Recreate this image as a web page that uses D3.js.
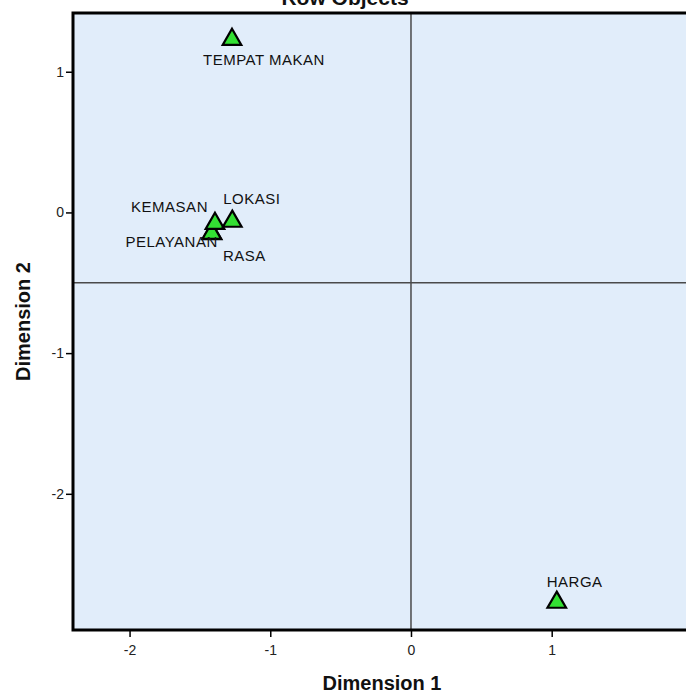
<!DOCTYPE html>
<html>
<head>
<meta charset="utf-8">
<script src="https://cdn.jsdelivr.net/npm/d3@7"></script>
<style>
  html, body { margin: 0; padding: 0; background: #fff; }
  svg { display: block; font-family: "Liberation Sans", Arial, sans-serif; }
</style>
</head>
<body>
<svg id="chart" width="686" height="697"></svg>
<script>
// ---- data ----
const labels = ["TEMPAT MAKAN", "LOKASI", "KEMASAN", "PELAYANAN", "RASA", "HARGA"];
const dim1   = [-1.272, -1.270, -1.393, -1.416, -1.414, 1.036];
const dim2   = [ 1.240, -0.053, -0.068, -0.139, -0.141, -2.761];
const xTicks = [-2, -1, 0, 1];
const yTicks = [-2, -1, 0, 1];
const refX = 0;      // vertical reference line
const refY = -0.5;   // horizontal reference line
const title = "Row Objects";
const xTitle = "Dimension 1";
const yTitle = "Dimension 2";

// label placement (style): [dx, dy, anchor]
const labelPlace = [
  [-29, 27, "start"],
  [-9, -16, "start"],
  [-7, -10, "end"],
  [6, 15, "end"],
  [11, 29, "start"],
  [-10, -14, "start"]
];

// ---- layout ----
const svg = d3.select("#chart");
const plot = { left: 73, top: 13, right: 691, bottom: 630 };
const x = d3.scaleLinear().domain([-2.402, 1.990]).range([plot.left, plot.right]);
const y = d3.scaleLinear().domain([-2.968, 1.4175]).range([plot.bottom, plot.top]);

// background
svg.append("rect")
  .attr("x", plot.left).attr("y", plot.top)
  .attr("width", plot.right - plot.left).attr("height", plot.bottom - plot.top)
  .attr("fill", "#E1EDFA");

// reference lines
svg.append("line")
  .attr("x1", x(refX)).attr("x2", x(refX))
  .attr("y1", plot.top).attr("y2", plot.bottom)
  .attr("stroke", "#4a4a4a").attr("stroke-width", 1.5);
svg.append("line")
  .attr("x1", plot.left).attr("x2", plot.right)
  .attr("y1", y(refY)).attr("y2", y(refY))
  .attr("stroke", "#4a4a4a").attr("stroke-width", 1.5);

// axes
const xAxis = svg.append("g")
  .attr("transform", `translate(0,${plot.bottom})`)
  .call(d3.axisBottom(x).tickValues(xTicks).tickFormat(d => String(d)).tickSize(7).tickSizeOuter(0));
const yAxis = svg.append("g")
  .attr("transform", `translate(${plot.left},0)`)
  .call(d3.axisLeft(y).tickValues(yTicks).tickFormat(d => String(d)).tickSize(7).tickSizeOuter(0));
[xAxis, yAxis].forEach(g => {
  g.select(".domain").remove();
  g.selectAll(".tick line").attr("stroke", "#000").attr("stroke-width", 1.5);
  g.selectAll(".tick text")
    .attr("fill", "#222")
    .style("font-family", "'Liberation Sans', Arial, sans-serif")
    .style("font-size", "14px");
});
xAxis.selectAll(".tick text").attr("dy", "1.05em");
yAxis.selectAll(".tick text").attr("x", -9);

// frame (left, top, bottom)
svg.append("path")
  .attr("d", `M${plot.right + 5},${plot.top} H${plot.left} V${plot.bottom} H${plot.right + 5}`)
  .attr("fill", "none").attr("stroke", "#000").attr("stroke-width", 3);

// points
const tri = d3.symbol().type(d3.symbolTriangle).size(150);
const pts = labels.map((l, i) => ({ label: l, d1: dim1[i], d2: dim2[i], p: labelPlace[i] }));
svg.append("g").selectAll("path")
  .data(pts.slice().reverse())
  .join("path")
  .attr("d", tri)
  .attr("transform", d => `translate(${x(d.d1)},${y(d.d2) + 1.5})`)
  .attr("fill", "#33E033")
  .attr("stroke", "#000")
  .attr("stroke-width", 2.2)
  .attr("stroke-linejoin", "miter");

svg.append("g").selectAll("text")
  .data(pts)
  .join("text")
  .attr("x", d => x(d.d1) + d.p[0])
  .attr("y", d => y(d.d2) + d.p[1])
  .attr("text-anchor", d => d.p[2])
  .attr("fill", "#111")
  .style("font-size", "15px")
  .style("letter-spacing", "0.5px")
  .text(d => d.label);

// titles
svg.append("text")
  .attr("x", 345).attr("y", 5)
  .attr("text-anchor", "middle")
  .style("font-weight", "bold").style("font-size", "21px")
  .attr("fill", "#111")
  .text(title);
svg.append("text")
  .attr("x", (plot.left + plot.right) / 2).attr("y", 690)
  .attr("text-anchor", "middle")
  .style("font-weight", "bold").style("font-size", "20px")
  .attr("fill", "#111")
  .text(xTitle);
svg.append("text")
  .attr("transform", `translate(30,${(plot.top + plot.bottom) / 2}) rotate(-90)`)
  .attr("text-anchor", "middle")
  .style("font-weight", "bold").style("font-size", "20px")
  .attr("fill", "#111")
  .text(yTitle);
</script>
</body>
</html>
